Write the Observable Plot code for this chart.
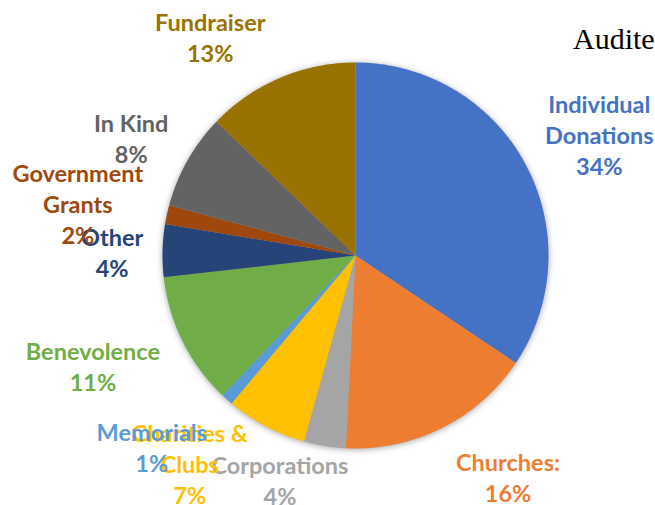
<!DOCTYPE html>
<html><head><meta charset="utf-8">
<script src="https://cdn.jsdelivr.net/npm/d3@7"></script>
<script src="https://cdn.jsdelivr.net/npm/@observablehq/plot@0.6"></script>
<style>
html,body{margin:0;padding:0;background:#fff;overflow:hidden;width:655px;height:505px}
#wrap{position:relative;width:655px;height:505px;overflow:hidden}
#title{position:absolute;left:573px;top:24px;font-family:"Liberation Serif","DejaVu Serif",serif;font-size:30px;color:#000;white-space:nowrap;line-height:1}
</style>
</head><body><div id="wrap"><div id="chart"></div><div id="title"></div></div>
<script>
// ---- data ----
const categories = ["Individual Donations","Churches","Corporations","Charities & Clubs","Memorials","Benevolence","Other","Government Grants","In Kind","Fundraiser"];
const labelTexts = ["Individual\nDonations","Churches:","Corporations","Charities &\nClubs","Memorials","Benevolence","Other","Government\nGrants","In Kind","Fundraiser"];
const shares = [34.4, 16.4, 3.5, 6.8, 1.0, 11.1, 4.4, 1.6, 8.0, 12.8];
const pctLabels = ["34%","16%","4%","7%","1%","11%","4%","2%","8%","13%"];
const titleText = "Audited Income";

// ---- styles / layout ----
const colors = ["#4472C4","#ED7D31","#A5A5A5","#FFC000","#5B9BD5","#70AD47","#264478","#9E480E","#636363","#997300"];
const W = 655, H = 505, cx = 355, cy = 255, R = 193;
const fontSize = 23.5, lineH = 31, charW = 11.5, gap = 8;
const nudge = {
  "Individual Donations":[3,7], "Churches":[40,-3], "Corporations":[-37,-14],
  "Charities & Clubs":[-40,-32], "Memorials":[-32,-1], "Benevolence":[-20,-11],
  "Other":[-13,2], "Government Grants":[-17,4], "In Kind":[-6,6], "Fundraiser":[-47,12]
};

const arcs = d3.pie().sort(null).value(d => d)(shares);
const slicePts = [];
arcs.forEach((a, i) => {
  const cat = categories[i];
  slicePts.push({cat, x: 0, y: 0});
  const n = Math.max(2, Math.ceil((a.endAngle - a.startAngle) / (Math.PI / 360)));
  for (let k = 0; k <= n; k++) {
    const t = a.startAngle + (a.endAngle - a.startAngle) * k / n;
    slicePts.push({cat, x: R * Math.sin(t), y: -R * Math.cos(t)});
  }
  slicePts.push({cat, x: 0, y: 0});
});

const labels = arcs.map((a, i) => {
  const cat = categories[i];
  const text = labelTexts[i] + "\n" + pctLabels[i];
  const lines = text.split("\n");
  const w = d3.max(lines, l => l.length) * charW;
  const h = lines.length * 30;
  const m = (a.startAngle + a.endAngle) / 2;
  const ux = Math.sin(m), uy = -Math.cos(m);
  const dist = R + gap + (w / 2) * Math.abs(ux) + (h / 2) * Math.abs(uy);
  const [nx, ny] = nudge[cat] || [0, 0];
  return {cat, text, x: dist * ux + nx, y: dist * uy + ny};
});

const plot = Plot.plot({
  width: W, height: H,
  margin: 0,
  x: {domain: [-cx, W - cx], range: [0, W], axis: null},
  y: {domain: [-cy, H - cy], range: [0, H], axis: null},
  color: {domain: categories, range: colors},
  style: {background: "transparent", overflow: "visible"},
  marks: [
    Plot.line(slicePts, {x: "x", y: "y", z: "cat", fill: "cat", stroke: "none", curve: "linear"}),
    Plot.text(labels, {x: "x", y: "y", text: "text", fill: "cat", fontSize, fontWeight: "bold",
      fontFamily: "Lato, 'Open Sans', sans-serif", lineHeight: lineH / fontSize, textAnchor: "middle", lineAnchor: "middle"})
  ]
});
document.getElementById("chart").appendChild(plot);
const lineG = plot.querySelector('g[aria-label="line"]');
if (lineG) lineG.style.filter = "drop-shadow(0px 1px 3px rgba(0,0,0,0.35))";
document.getElementById("title").textContent = titleText;
</script>
</body></html>
